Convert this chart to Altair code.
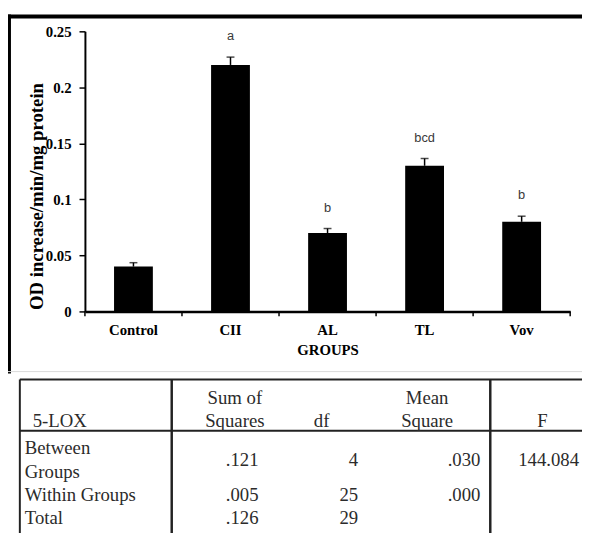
import altair as alt
import pandas as pd

# ---------------- data ----------------
groups = ["Control", "CII", "AL", "TL", "Vov"]
means = [0.040, 0.220, 0.070, 0.130, 0.080]
errors = [0.0035, 0.007, 0.004, 0.0065, 0.005]
letters = ["", "a", "b", "bcd", "b"]
y_ticks = [0, 0.05, 0.1, 0.15, 0.2, 0.25]
y_title = "OD increase/min/mg protein"
x_title = "GROUPS"

table_title = "5-LOX"
table_columns = ["Sum of\nSquares", "df", "Mean\nSquare", "F"]
row_labels = ["Between\nGroups", "Within Groups", "Total"]
sum_of_squares = [".121", ".005", ".126"]
df_values = ["4", "25", "29"]
mean_squares = [".030", ".000", ""]
f_values = ["144.084", "", ""]

# ---------------- layout / style ----------------
W, H = 492, 284
STEP = W / len(groups)
SERIF = "Liberation Serif"
SANS = "Liberation Sans"
INK = "#2b2b2b"

df = pd.DataFrame({"group": groups, "mean": means, "err": errors, "letter": letters})
df["top"] = df["mean"] + df["err"]

x_scale = alt.Scale(domain=groups, paddingInner=0.6, paddingOuter=0.3)
x_axis = alt.Axis(
    title=x_title, labelAngle=0, ticks=False, tickSize=0,
    labelFont=SERIF, labelFontWeight="bold", labelFontSize=15, labelColor="black",
    labelPadding=11, titleFont=SERIF, titleFontWeight="bold", titleFontSize=15,
    titleColor="black", titlePadding=6, domainColor="black", domainWidth=2.5,
)
y_scale = alt.Scale(domain=[0, 0.25], nice=False)
y_axis = alt.Axis(
    values=y_ticks, format="~g", title=y_title, grid=False,
    labelFont=SERIF, labelFontWeight="bold", labelFontSize=15, labelColor="black",
    labelPadding=8, tickSize=6, tickColor="black", tickWidth=1.5,
    domainColor="black", domainWidth=2,
    titleFont=SERIF, titleFontWeight="bold", titleFontSize=19, titleColor="black",
    titleAngle=-90, titleAlign="center", titleBaseline="middle", titleX=-49, titleY=167,
)


def X():
    return alt.X("group:N", scale=x_scale, axis=x_axis)


def Y(field):
    return alt.Y(f"{field}:Q", scale=y_scale, axis=y_axis)


base = alt.Chart(df)
bars = base.mark_bar(color="black").encode(x=X(), y=Y("mean"))
err_rule = base.mark_rule(color="black", strokeWidth=1.5).encode(
    x=X(), y=Y("mean"), y2=alt.Y2("top:Q")
)
caps = base.mark_tick(color="black", thickness=1.5, size=8).encode(x=X(), y=Y("top"))
letter_text = base.mark_text(
    dy=-21, baseline="middle", font=SANS, fontSize=13, color="#3a3a3a"
).encode(x=X(), y=Y("top"), text="letter:N")
xticks = base.mark_rule(color="black", strokeWidth=1.5, xOffset=-STEP / 2).encode(
    x=X(), y=alt.value(H), y2=alt.value(H + 5)
)

one = alt.Data(values=[{}])


def hline(x1, x2, y, w, color="black"):
    return alt.Chart(one).mark_rule(strokeWidth=w, color=color).encode(
        x=alt.value(x1), x2=alt.value(x2), y=alt.value(y)
    )


def vline(x, y1, y2, w, color="black"):
    return alt.Chart(one).mark_rule(strokeWidth=w, color=color).encode(
        x=alt.value(x), y=alt.value(y1), y2=alt.value(y2)
    )


xtick_end = vline(W, H, H + 5, 1.5)

chart_part = alt.layer(bars, err_rule, caps, letter_text, xticks, xtick_end)

# frame and table rules
decor = [
    hline(-80, 510, -15, 4),            # frame top
    vline(-77, -17, 347, 4),            # frame left
    hline(-80, 510, 345, 1, "#d9d9d9"), # faint separator
    hline(-66, 510, 353, 2, "#222"),    # table top
    vline(-66, 353, 530, 2, "#222"),    # table left
    vline(88, 353, 530, 2.5, "#222"),   # after first column
    vline(411, 353, 530, 2.5, "#222"),  # before F column
    hline(-66, 510, 405, 2, "#222"),    # header separator
]

# ---- table text laid out on a grid of text lines ----
# header lines end on line -1; body rows start on line 0 and take as many
# lines as their label needs; numbers are centred in their row's lines.
row_start, row_lines, cur = [], [], 0
for lab in row_labels:
    n = len(lab.split("\n"))
    row_start.append(cur)
    row_lines.append(n)
    cur += n
n_body_lines = cur

table_y = alt.Scale(domain=[-2, n_body_lines - 1], range=[376, 493.5], nice=False, zero=False)


def header_rows(text):
    parts = text.split("\n")
    return [{"line": -len(parts) + i, "text": p} for i, p in enumerate(parts)]


def label_rows(labels):
    out = []
    for lab, s in zip(labels, row_start):
        for i, p in enumerate(lab.split("\n")):
            out.append({"line": s + i, "text": p})
    return out


def value_rows(values):
    return [
        {"line": s + (n - 1) / 2, "text": v}
        for v, s, n in zip(values, row_start, row_lines)
    ]


def text_layer(rows, x, align, dy=0):
    d = pd.DataFrame(rows)
    return alt.Chart(d).mark_text(
        align=align, baseline="middle", font=SERIF, fontSize=19, color=INK, dy=dy,
    ).encode(
        x=alt.value(x),
        y=alt.Y("line:Q", scale=table_y, axis=None),
        text="text:N",
    )


header_cells = [table_title] + table_columns
header_x = [-53, 152, 240, 347, 464]
header_align = ["left", "center", "center", "center", "center"]
table_layers = [
    text_layer(header_rows(t), x, a, dy=-4)
    for t, x, a in zip(header_cells, header_x, header_align)
]
table_layers.append(text_layer(label_rows(row_labels), -61, "left"))
value_cols = [sum_of_squares, df_values, mean_squares, f_values]
value_x = [176, 277, 401, 501]
table_layers += [text_layer(value_rows(c), x, "right") for c, x in zip(value_cols, value_x)]

table_part = alt.layer(*decor, *table_layers)

chart = (
    alt.layer(chart_part, table_part)
    .resolve_scale(y="independent")
    .properties(
        width=W, height=H,
        autosize=alt.AutoSizeParams(type="none"),
        padding={"left": 78, "top": 20, "right": 12, "bottom": 221},
    )
    .configure_view(stroke=None)
)

chart.save("out.html", embed_options={"renderer": "svg", "actions": False})
